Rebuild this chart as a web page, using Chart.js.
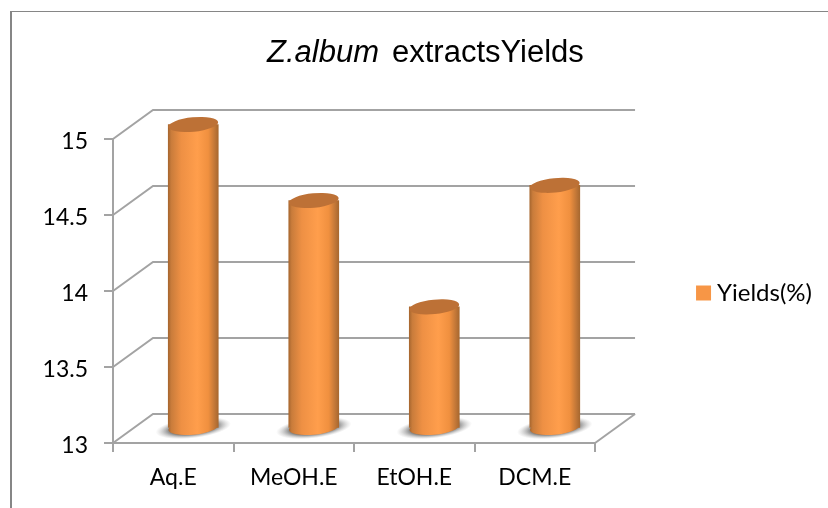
<!DOCTYPE html>
<html><head><meta charset="utf-8">
<style>html,body{margin:0;padding:0;background:#fff}#w{width:828px;height:508px;position:relative}</style>
<script src="https://cdn.jsdelivr.net/npm/chart.js@4"></script>
</head><body><div id="w"><canvas id="c" width="828" height="508"></canvas></div>
<script>
const categories = ["Aq.E", "MeOH.E", "EtOH.E", "DCM.E"];
const seriesName = "Yields(%)";
const yields = [15, 14.5, 13.8, 14.6];
const titleItalic = "Z.album";
const titleRest = "extractsYields";
const yMin = 13, yMax = 15, yStep = 0.5;

const GRID = "#a3a3a3", SOLID = "#f79646", DX = 40, DY = 29, MX = 20, MY = 14.5, RY = 7.2, TILT = -0.1;

function barGrad(ctx, x, w) {
  const g = ctx.createLinearGradient(x - w/2, 0, x + w/2, 0);
  g.addColorStop(0, "#a8672f");
  g.addColorStop(0.06, "#c97c3b");
  g.addColorStop(0.26, "#ee9044");
  g.addColorStop(0.58, "#ff9e4c");
  g.addColorStop(0.8, "#f0903f");
  g.addColorStop(0.93, "#c07637");
  g.addColorStop(1, "#a8682f");
  return g;
}
const deco = {
  id: "deco",
  beforeDraw(chart) {
    const c = chart.ctx;
    c.save();
    c.fillStyle = "#868686";
    c.fillRect(10, 11, 818, 1);
    c.fillRect(10, 11, 2, 497);
    c.font = "italic 31px 'Liberation Sans'";
    c.fillStyle = "#000";
    c.textBaseline = "alphabetic";
    c.fillText(titleItalic, 267, 62);
    c.font = "31px 'Liberation Sans'";
    c.fillText(titleRest, 392, 62);
    c.restore();
  },
  afterLayout(chart) {
    chart.scales.x.bottom = chart.height;
  },
  beforeDatasetsDraw(chart) {
    const c = chart.ctx, y = chart.scales.y, a = chart.chartArea;
    c.save();
    c.strokeStyle = GRID; c.lineWidth = 2;
    y.ticks.forEach(t => {
      const p = y.getPixelForValue(t.value);
      c.beginPath();
      c.moveTo(a.left, p);
      c.lineTo(a.left + DX, p - DY);
      c.lineTo(a.right + DX, p - DY);
      c.stroke();
    });
    const b = y.getPixelForValue(yMin);
    c.beginPath();
    c.moveTo(a.right, b);
    c.lineTo(a.right + DX, b - DY);
    c.stroke();
    // shadows on the floor
    chart.getDatasetMeta(0).data.forEach(el => {
      const cx = el.x + MX, cy = b - MY - 0.5;
      c.save();
      c.translate(cx, cy);
      c.rotate(TILT * 1.2);
      c.scale(1, 0.27);
      const r = el.width * 0.76;
      const g = c.createRadialGradient(0, 0, r * 0.6, 0, 0, r);
      g.addColorStop(0, "rgba(115,115,115,1)");
      g.addColorStop(1, "rgba(190,190,190,0)");
      c.fillStyle = g;
      c.beginPath(); c.arc(0, 0, r, 0, Math.PI * 2); c.fill();
      c.restore();
    });
    c.restore();
    c.save();
    c.translate(MX, -MY);
  },
  afterDatasetsDraw(chart) {
    const c = chart.ctx;
    chart.getDatasetMeta(0).data.forEach(el => {
      const w = el.width;
      c.fillStyle = barGrad(c, el.x, w);
      c.beginPath();
      c.ellipse(el.x, el.base, w/2, RY, TILT, 0, Math.PI * 2);
      c.fill();
      c.fillStyle = "#bd7136";
      c.beginPath();
      c.ellipse(el.x, el.y, w/2, RY, TILT, 0, Math.PI * 2);
      c.fill();
    });
    c.restore();
  }
};
new Chart(document.getElementById("c"), {
  type: "bar",
  data: { labels: categories, datasets: [{
    label: seriesName, data: yields, base: yMin, barThickness: 50, borderWidth: 0, clip: false,
    backgroundColor(ctx) {
      if (ctx.type !== "data") return SOLID;
      const px = ctx.chart.scales.x.getPixelForValue(ctx.dataIndex);
      if (!isFinite(px)) return SOLID;
      return barGrad(ctx.chart.ctx, px, 50);
    }
  }]},
  plugins: [deco],
  options: {
    responsive: false, animation: false, devicePixelRatio: 1,
    layout: { padding: { left: 40, top: 139, right: 6, bottom: 61 } },
    scales: {
      x: { grid: { drawOnChartArea: false, color: GRID, lineWidth: 2, tickLength: 9 },
           border: { color: GRID, width: 2 },
           ticks: { color: "#000", font: { family: "Lato", size: 23 }, padding: 12, maxRotation: 0, autoSkip: false },
           afterFit(s) { s.height = 4; } },
      y: { min: yMin, max: yMax, ticks: { stepSize: yStep, color: "#000", font: { family: "Lato", size: 23 }, padding: 16, labelOffset: 3, callback: v => String(v) },
           grid: { drawOnChartArea: false, color: GRID, lineWidth: 2, tickLength: 9 },
           border: { color: GRID, width: 2 },
           afterFit(s) { s.width = 73; } },
      gap: { position: "right", display: true, grid: { display: false }, border: { display: false },
             ticks: { display: false }, afterFit(s) { s.width = 101; } }
    },
    plugins: {
      legend: { position: "right", labels: { boxWidth: 3, boxHeight: 3, padding: 6, color: "#000",
                font: { family: "Lato", size: 24 },
                generateLabels(chart) {
                  const items = Chart.defaults.plugins.legend.labels.generateLabels(chart);
                  items.forEach(i => { i.fillStyle = SOLID; i.strokeStyle = SOLID; i.lineWidth = 12; });
                  return items;
                } } },
      tooltip: { enabled: false }
    }
  }
});
</script></body></html>
